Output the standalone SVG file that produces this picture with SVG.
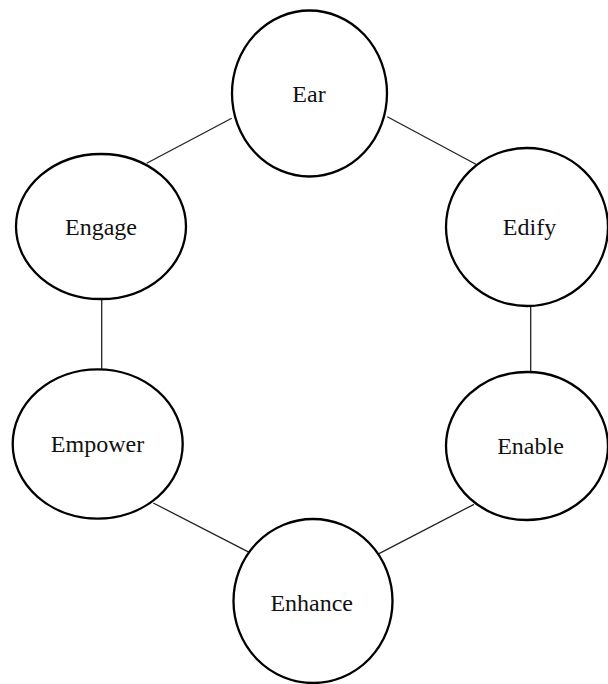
<svg xmlns="http://www.w3.org/2000/svg" width="608" height="684" viewBox="0 0 608 684">
<style>
.node{fill:#fff;stroke:#000;stroke-width:2.3}
.lbl{font-family:'Liberation Serif','Times New Roman',Times,'DejaVu Serif',serif;font-size:24px;fill:#111;text-anchor:middle}
.conn line{stroke:#222;stroke-width:1.3}
</style>
<rect width="608" height="684" fill="#fff"/>
<g class="conn" id="connectors">
<line x1="231.7" y1="118.3" x2="146.7" y2="163.3"/>
<line x1="387.3" y1="116.7" x2="477.3" y2="165"/>
<line x1="101.7" y1="299" x2="101.7" y2="370"/>
<line x1="530.7" y1="306" x2="530.7" y2="375"/>
<line x1="153.3" y1="503" x2="251.7" y2="553.7"/>
<line x1="474" y1="504.3" x2="379" y2="553.7"/>
</g>
<g id="ear"><ellipse class="node" cx="309.5" cy="93.5" rx="77.5" ry="83"/><text class="lbl" font-family="Liberation Serif, serif" x="309" y="101.5">Ear</text></g>
<g id="edify"><ellipse class="node" cx="527" cy="227" rx="81" ry="79"/><text class="lbl" font-family="Liberation Serif, serif" x="529.5" y="235">Edify</text></g>
<g id="engage"><ellipse class="node" cx="101" cy="226.5" rx="85" ry="72.5"/><text class="lbl" font-family="Liberation Serif, serif" x="101" y="235">Engage</text></g>
<g id="empower"><ellipse class="node" cx="97.7" cy="444" rx="85" ry="74.7"/><text class="lbl" font-family="Liberation Serif, serif" x="97.5" y="452">Empower</text></g>
<g id="enable"><ellipse class="node" cx="527" cy="446" rx="81" ry="74"/><text class="lbl" font-family="Liberation Serif, serif" x="530.5" y="453.7">Enable</text></g>
<g id="enhance"><ellipse class="node" cx="313" cy="601" rx="79.5" ry="82"/><text class="lbl" font-family="Liberation Serif, serif" x="311.7" y="610.7">Enhance</text></g>
</svg>
